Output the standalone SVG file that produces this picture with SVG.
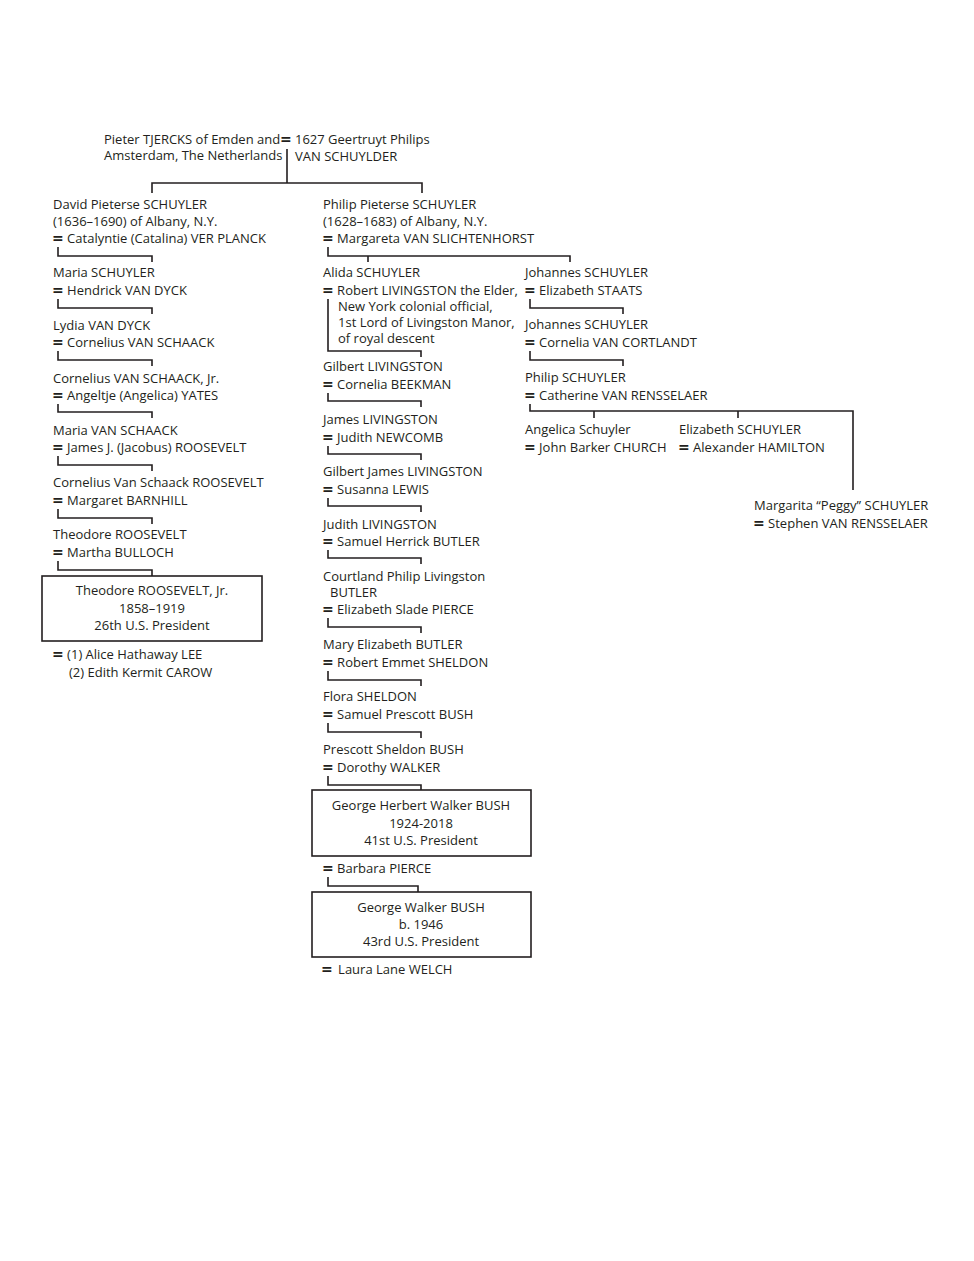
<svg xmlns="http://www.w3.org/2000/svg" width="974" height="1261" viewBox="0 0 974 1261">
<style>
text{font-family:"Open Sans","Noto Sans","Liberation Sans",sans-serif;font-size:13px;fill:#231f20}
.c{text-anchor:middle}
.eq{font-family:"DejaVu Sans",sans-serif;font-size:14px;font-weight:700}
.ln{fill:none;stroke:#231f20;stroke-width:1.6}
.box{fill:#fff;stroke:#231f20;stroke-width:1.6}
</style>
<rect width="974" height="1261" fill="#fff"/>
<g id="connectors" class="ln">
<path d="M287,149 V183 M152,193 V183 H422 V193"/>
<path d="M58,247 V256 H152 V262"/>
<path d="M58,299 V308 H152 V314"/>
<path d="M58,351 V360 H152 V366"/>
<path d="M58,404 V412 H152 V418"/>
<path d="M58,456 V465 H152 V471"/>
<path d="M58,509 V518 H152 V524"/>
<path d="M58,561 V570 H152 V576"/>
<path d="M328,247 V256 H570 V262 M368,256 V262"/>
<path d="M328,299 V351 H421 V357"/>
<path d="M328,393 V401 H421 V407"/>
<path d="M328,446 V454 H421 V460"/>
<path d="M328,498 V506 H421 V512"/>
<path d="M328,550 V558 H421 V564"/>
<path d="M328,618 V627 H421 V633"/>
<path d="M328,671 V680 H421 V686"/>
<path d="M328,723 V732 H421 V738"/>
<path d="M328,776 V785 H421 V790"/>
<path d="M328,877 V886 H418 V892"/>
<path d="M530,299 V308 H623 V314"/>
<path d="M530,351 V360 H623 V366"/>
<path d="M530,404 V411 H853 V490 M594,411 V418 M738,411 V418"/>
</g>
<g id="n-tjercks">
<text x="104" y="144">Pieter TJERCKS of Emden and</text>
<text x="104" y="160">Amsterdam, The Netherlands</text>
<text x="280" y="144" class="eq">=</text>
<text x="295" y="144">1627 Geertruyt Philips</text>
<text x="295" y="161">VAN SCHUYLDER</text>
</g>
<g id="n-david">
<text x="53" y="209">David Pieterse SCHUYLER</text>
<text x="53" y="226">(1636–1690) of Albany, N.Y.</text>
<text x="52" y="243"><tspan class="eq">=</tspan> Catalyntie (Catalina) VER PLANCK</text>
</g>
<g id="n-maria-s">
<text x="53" y="277">Maria SCHUYLER</text>
<text x="52" y="295"><tspan class="eq">=</tspan> Hendrick VAN DYCK</text>
</g>
<g id="n-lydia">
<text x="53" y="330">Lydia VAN DYCK</text>
<text x="52" y="347"><tspan class="eq">=</tspan> Cornelius VAN SCHAACK</text>
</g>
<g id="n-cornelius-jr">
<text x="53" y="383">Cornelius VAN SCHAACK, Jr.</text>
<text x="52" y="400"><tspan class="eq">=</tspan> Angeltje (Angelica) YATES</text>
</g>
<g id="n-maria-vs">
<text x="53" y="435">Maria VAN SCHAACK</text>
<text x="52" y="452"><tspan class="eq">=</tspan> James J. (Jacobus) ROOSEVELT</text>
</g>
<g id="n-cvs-roosevelt">
<text x="53" y="487">Cornelius Van Schaack ROOSEVELT</text>
<text x="52" y="505"><tspan class="eq">=</tspan> Margaret BARNHILL</text>
</g>
<g id="n-theodore">
<text x="53" y="539">Theodore ROOSEVELT</text>
<text x="52" y="557"><tspan class="eq">=</tspan> Martha BULLOCH</text>
</g>
<g id="n-tr-jr">
<rect class="box" x="42" y="576" width="220" height="65"/>
<text class="c" x="152" y="595">Theodore ROOSEVELT, Jr.</text>
<text class="c" x="152" y="613">1858–1919</text>
<text class="c" x="152" y="630">26th U.S. President</text>
<text x="52" y="659"><tspan class="eq">=</tspan> (1) Alice Hathaway LEE</text>
<text x="69" y="677">(2) Edith Kermit CAROW</text>
</g>
<g id="n-philip-p">
<text x="323" y="209">Philip Pieterse SCHUYLER</text>
<text x="323" y="226">(1628–1683) of Albany, N.Y.</text>
<text x="322" y="243"><tspan class="eq">=</tspan> Margareta VAN SLICHTENHORST</text>
</g>
<g id="n-alida">
<text x="323" y="277">Alida SCHUYLER</text>
<text x="322" y="295"><tspan class="eq">=</tspan> Robert LIVINGSTON the Elder,</text>
<text x="338" y="311">New York colonial official,</text>
<text x="338" y="327">1st Lord of Livingston Manor,</text>
<text x="338" y="343">of royal descent</text>
</g>
<g id="n-gilbert">
<text x="323" y="371">Gilbert LIVINGSTON</text>
<text x="322" y="389"><tspan class="eq">=</tspan> Cornelia BEEKMAN</text>
</g>
<g id="n-james">
<text x="323" y="424">James LIVINGSTON</text>
<text x="322" y="442"><tspan class="eq">=</tspan> Judith NEWCOMB</text>
</g>
<g id="n-gilbert-james">
<text x="323" y="476">Gilbert James LIVINGSTON</text>
<text x="322" y="494"><tspan class="eq">=</tspan> Susanna LEWIS</text>
</g>
<g id="n-judith">
<text x="323" y="529">Judith LIVINGSTON</text>
<text x="322" y="546"><tspan class="eq">=</tspan> Samuel Herrick BUTLER</text>
</g>
<g id="n-courtland">
<text x="323" y="581">Courtland Philip Livingston</text>
<text x="330" y="597">BUTLER</text>
<text x="322" y="614"><tspan class="eq">=</tspan> Elizabeth Slade PIERCE</text>
</g>
<g id="n-mary-e">
<text x="323" y="649">Mary Elizabeth BUTLER</text>
<text x="322" y="667"><tspan class="eq">=</tspan> Robert Emmet SHELDON</text>
</g>
<g id="n-flora">
<text x="323" y="701">Flora SHELDON</text>
<text x="322" y="719"><tspan class="eq">=</tspan> Samuel Prescott BUSH</text>
</g>
<g id="n-prescott">
<text x="323" y="754">Prescott Sheldon BUSH</text>
<text x="322" y="772"><tspan class="eq">=</tspan> Dorothy WALKER</text>
</g>
<g id="n-ghwb">
<rect class="box" x="312" y="790" width="219" height="66"/>
<text class="c" x="421" y="810">George Herbert Walker BUSH</text>
<text class="c" x="421" y="828">1924-2018</text>
<text class="c" x="421" y="845">41st U.S. President</text>
<text x="322" y="873"><tspan class="eq">=</tspan> Barbara PIERCE</text>
</g>
<g id="n-gwb">
<rect class="box" x="312" y="892" width="219" height="65"/>
<text class="c" x="421" y="912">George Walker BUSH</text>
<text class="c" x="421" y="929">b. 1946</text>
<text class="c" x="421" y="946">43rd U.S. President</text>
<text x="321" y="974"><tspan class="eq">=</tspan><tspan dx="2"> Laura Lane WELCH</tspan></text>
</g>
<g id="n-johannes1">
<text x="525" y="277">Johannes SCHUYLER</text>
<text x="524" y="295"><tspan class="eq">=</tspan> Elizabeth STAATS</text>
</g>
<g id="n-johannes2">
<text x="525" y="329">Johannes SCHUYLER</text>
<text x="524" y="347"><tspan class="eq">=</tspan> Cornelia VAN CORTLANDT</text>
</g>
<g id="n-philip">
<text x="525" y="382">Philip SCHUYLER</text>
<text x="524" y="400"><tspan class="eq">=</tspan> Catherine VAN RENSSELAER</text>
</g>
<g id="n-angelica">
<text x="525" y="434">Angelica Schuyler</text>
<text x="524" y="452"><tspan class="eq">=</tspan> John Barker CHURCH</text>
</g>
<g id="n-elizabeth">
<text x="679" y="434">Elizabeth SCHUYLER</text>
<text x="678" y="452"><tspan class="eq">=</tspan> Alexander HAMILTON</text>
</g>
<g id="n-margarita">
<text x="754" y="510">Margarita “Peggy” SCHUYLER</text>
<text x="753" y="528"><tspan class="eq">=</tspan> Stephen VAN RENSSELAER</text>
</g>
</svg>
